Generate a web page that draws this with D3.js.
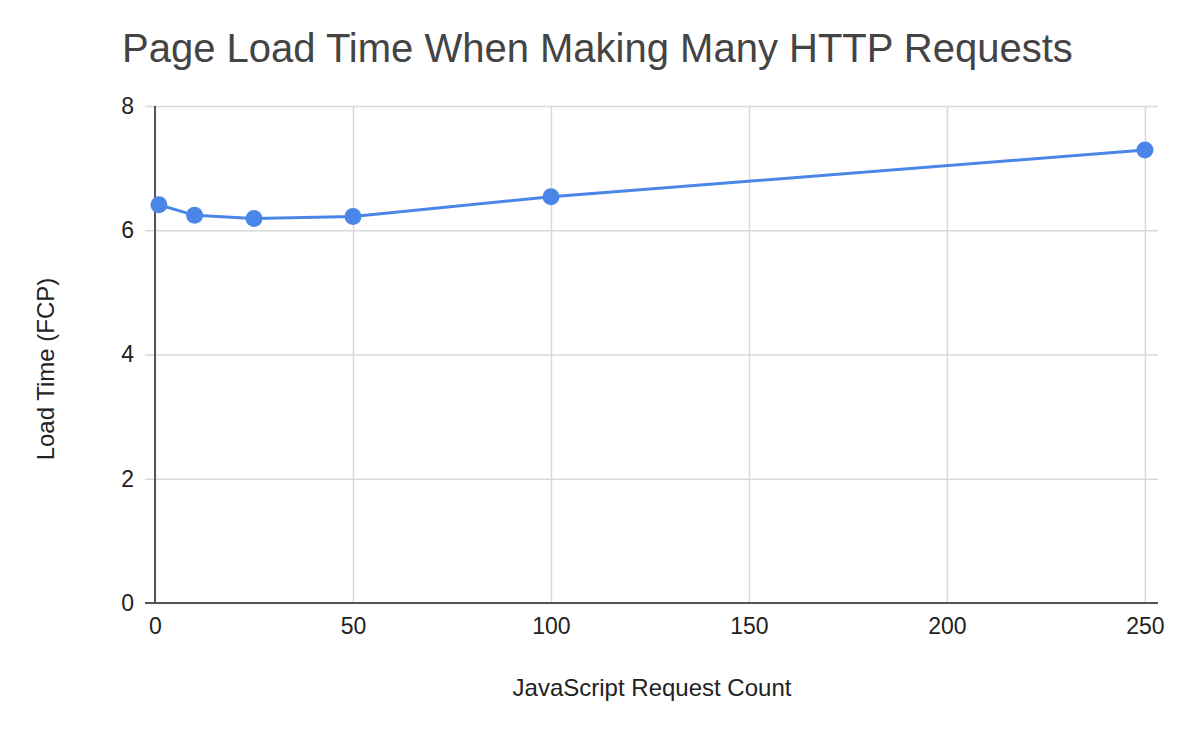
<!DOCTYPE html>
<html>
<head>
<meta charset="utf-8">
<script src="https://cdn.jsdelivr.net/npm/d3@7"></script>
<style>
  body { margin: 0; background: #fff; }
  text { font-family: "Liberation Sans", Arial, sans-serif; }
</style>
</head>
<body>
<div id="chart"></div>
<script>
// data
var requestCounts = [1, 10, 25, 50, 100, 250];
var loadTimes = [6.41, 6.24, 6.19, 6.22, 6.54, 7.29];
var xTicks = [0, 50, 100, 150, 200, 250];
var yTicks = [0, 2, 4, 6, 8];

var width = 1182, height = 732;
var plotLeft = 155, plotRight = 1158, plotTop = 106, plotBottom = 603;

var svg = d3.select("#chart")
    .append("svg")
    .attr("width", width)
    .attr("height", height);

var x = d3.scaleLinear().domain([0, 253.3]).range([plotLeft, plotRight]);
var y = d3.scaleLinear().domain([0, 8]).range([plotBottom, plotTop]);

// horizontal grid + y labels
var yAxis = svg.append("g")
    .attr("transform", "translate(" + plotRight + ",0)")
    .call(d3.axisLeft(y).tickValues(yTicks).tickSize(plotRight - plotLeft + 10).tickPadding(11));
yAxis.select(".domain").remove();
yAxis.selectAll(".tick line").attr("stroke", "#d9d9d9").attr("stroke-width", 1.5);
yAxis.selectAll(".tick text")
    .attr("fill", "#222")
    .style("font-size", "23px");

// vertical grid + x labels
var xAxis = svg.append("g")
    .attr("transform", "translate(0," + plotBottom + ")")
    .call(d3.axisBottom(x).tickValues(xTicks).tickSize(-(plotBottom - plotTop)).tickPadding(15));
xAxis.select(".domain").remove();
xAxis.selectAll(".tick line").attr("stroke", "#d9d9d9").attr("stroke-width", 1.5);
xAxis.selectAll(".tick text")
    .attr("fill", "#222")
    .style("font-size", "23px");

// axis lines
svg.append("line")
    .attr("x1", plotLeft - 10).attr("x2", plotRight)
    .attr("y1", plotBottom).attr("y2", plotBottom)
    .attr("stroke", "#555").attr("stroke-width", 2);
svg.append("line")
    .attr("x1", plotLeft).attr("x2", plotLeft)
    .attr("y1", plotTop).attr("y2", plotBottom)
    .attr("stroke", "#555").attr("stroke-width", 2);

// series
var points = requestCounts.map(function (c, i) { return [c, loadTimes[i]]; });

svg.append("path")
    .datum(points)
    .attr("fill", "none")
    .attr("stroke", "#4a86e8")
    .attr("stroke-width", 3)
    .attr("d", d3.line().x(function (d) { return x(d[0]); }).y(function (d) { return y(d[1]); }));

svg.selectAll(".dot")
    .data(points)
    .enter().append("circle")
    .attr("class", "dot")
    .attr("cx", function (d) { return x(d[0]); })
    .attr("cy", function (d) { return y(d[1]); })
    .attr("r", 8.5)
    .attr("fill", "#4a86e8");

// titles
svg.append("text")
    .attr("x", 122)
    .attr("y", 62)
    .attr("fill", "#444")
    .style("font-size", "40px")
    .text("Page Load Time When Making Many HTTP Requests");

svg.append("text")
    .attr("x", 652)
    .attr("y", 696)
    .attr("text-anchor", "middle")
    .attr("fill", "#222")
    .style("font-size", "24px")
    .text("JavaScript Request Count");

svg.append("text")
    .attr("transform", "translate(54,369) rotate(-90)")
    .attr("text-anchor", "middle")
    .attr("fill", "#222")
    .style("font-size", "24px")
    .text("Load Time (FCP)");
</script>
</body>
</html>
